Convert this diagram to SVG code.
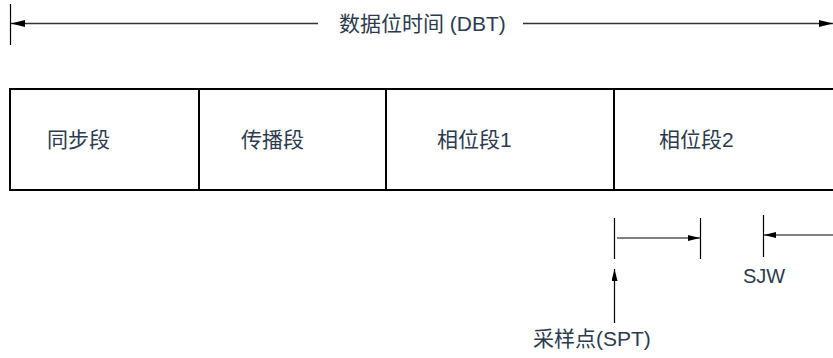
<svg xmlns="http://www.w3.org/2000/svg" width="833" height="358" viewBox="0 0 833 358">
<style>
.t{font-family:"Liberation Sans","Noto Sans CJK SC",sans-serif;font-size:21px;fill:#2b3a4e}
.s{font-size:20px}
.box{fill:none;stroke:#000;stroke-width:2}
.ln{stroke:#000;stroke-width:1.2;fill:none}
.gl{stroke:#333;stroke-width:1.5;fill:none}
</style>
<defs>
<marker id="ah" viewBox="0 0 12 6" refX="12" refY="3" markerWidth="12" markerHeight="6" markerUnits="userSpaceOnUse" orient="auto">
<path d="M0,0 L12,3 L0,6 Z" fill="#000"/>
</marker>
<marker id="ahb" viewBox="0 0 14 7" refX="14" refY="3.5" markerWidth="14" markerHeight="7" markerUnits="userSpaceOnUse" orient="auto">
<path d="M0,0 L14,3.5 L0,7 Z" fill="#000"/>
</marker>
</defs>
<g id="dbt">
<line class="ln" x1="10.5" y1="4" x2="10.5" y2="45"/>
<text class="t" x="339" y="31">数据位时间 (DBT)</text>
</g>
<g id="sync">
<rect class="box" x="10" y="89" width="189" height="101"/>
<text class="t" x="47" y="147">同步段</text>
</g>
<g id="prop">
<rect class="box" x="199" y="89" width="187" height="101"/>
<text class="t" x="241" y="147">传播段</text>
</g>
<g id="phase1">
<rect class="box" x="386" y="89" width="228" height="101"/>
<text class="t" x="437" y="147">相位段1</text>
</g>
<g id="phase2">
<path class="box" d="M835,89 H614 V190 H835"/>
<text class="t" x="659" y="147">相位段2</text>
</g>
<g id="spt">
<text class="t" x="533" y="346">采样点(SPT)</text>
</g>
<g id="sjw">
<text class="t s" x="743" y="283">SJW</text>
</g>
<g id="connectors">
<line class="gl" x1="318" y1="23.5" x2="11" y2="23.5" marker-end="url(#ahb)"/>
<line class="gl" x1="523" y1="23.5" x2="833" y2="23.5" marker-end="url(#ahb)"/>
<line class="ln" x1="614.5" y1="218" x2="614.5" y2="259"/>
<line class="ln" x1="700.5" y1="218" x2="700.5" y2="259"/>
<line class="ln" x1="617" y1="238" x2="700" y2="238" marker-end="url(#ah)"/>
<line class="ln" x1="763.5" y1="215" x2="763.5" y2="257"/>
<line class="ln" x1="833" y1="235" x2="764" y2="235" marker-end="url(#ah)"/>
<line class="ln" x1="614.5" y1="323" x2="614.5" y2="269" marker-end="url(#ah)"/>
</g>
</svg>
